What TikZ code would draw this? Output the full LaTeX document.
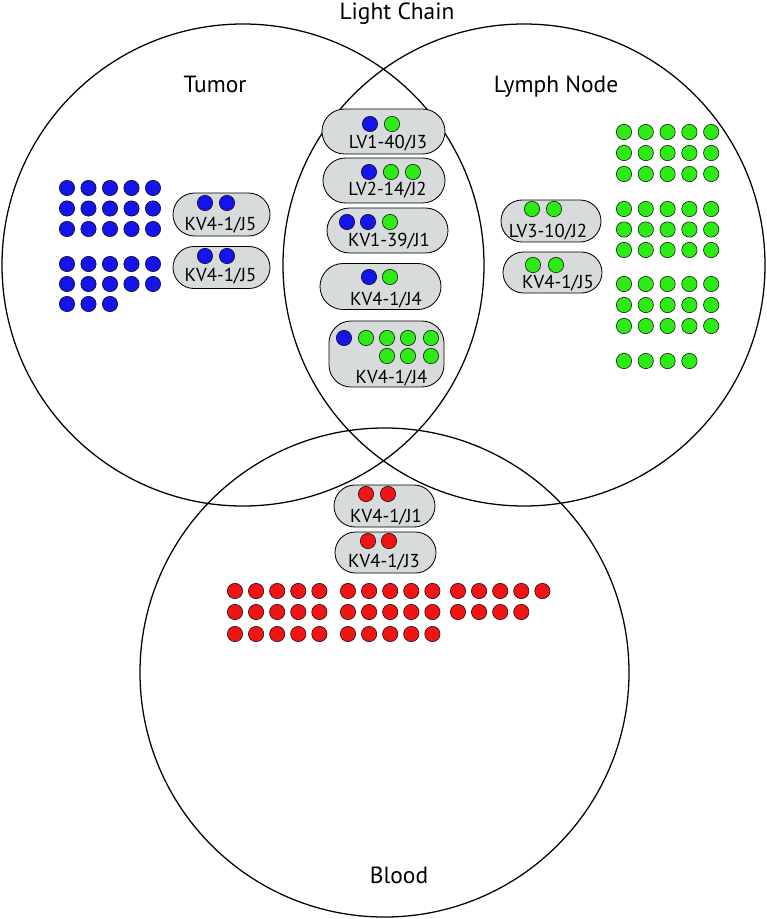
\documentclass[tikz,border=0pt]{standalone}
\usepackage{fontspec}
\setmainfont{PT Sans}
\usepackage{xcolor}
\usetikzlibrary{shapes.misc}
\definecolor{bluec}{RGB}{20,20,235}
\definecolor{greenc}{RGB}{45,235,20}
\definecolor{redc}{RGB}{240,20,20}
\definecolor{pillc}{RGB}{216,219,219}

\begin{document}
\begin{tikzpicture}[
  x=0.3mm, y=-0.3mm,
  venn/.style={circle,draw,line width=0.38mm,inner sep=0pt},
  pill/.style={rounded rectangle,draw,fill=pillc,line width=0.25mm,inner sep=0pt},
  bigpill/.style={rectangle,rounded corners=6.6mm,draw,fill=pillc,line width=0.25mm,inner sep=0pt},
  dot/.style={circle,draw,line width=0.15mm,minimum size=4.6mm,inner sep=0pt},
  bdot/.style={dot,fill=bluec},
  gdot/.style={dot,fill=greenc},
  rdot/.style={dot,fill=redc},
  ptext/.style={anchor=base,inner sep=0pt,font=\fontsize{16}{18}\selectfont},
  lbl/.style={anchor=base,inner sep=0pt,font=\fontsize{20}{22}\selectfont}
]
  \useasboundingbox (0,0) rectangle (767,919);
  % the three sets
  \node[venn,minimum size=144.6mm] (tumor) at (243,265) {};
  \node[venn,minimum size=144.6mm] (lymph) at (524,265) {};
  \node[venn,minimum size=146.7mm] (blood) at (384.5,672.5) {};
  \node[lbl] (lchain) at (397,19) {Light Chain};
  \node[lbl] (ltumor) at (215,92) {Tumor};
  \node[lbl] (llymph) at (556,92) {Lymph Node};
  \node[lbl] (lblood) at (399,883) {Blood};

  % tumor only
  \foreach \i in {0,...,4}
    \foreach \j in {0,1,2}
      \node[bdot] (ta\i\j) at ({67+21.5*\i},{188+20.5*\j}) {};
  \foreach \i in {0,...,4}
    \foreach \j in {0,1}
      \node[bdot] (tb\i\j) at ({67+21.5*\i},{264+20*\j}) {};
  \foreach \i in {0,1,2}
    \node[bdot] (tc\i) at ({67+21.5*\i},304) {};
  \node[pill,minimum width=29.1mm,minimum height=12.9mm] (t1) at (221.5,214.5) {};
  \node[bdot] (t1a) at (205,203) {};
  \node[bdot] (t1b) at (227,203) {};
  \node[ptext] (t1l) at (220.5,230) {KV4-1/J5};
  \node[pill,minimum width=29.1mm,minimum height=12.6mm] (t2) at (221.5,267.5) {};
  \node[bdot] (t2a) at (205,256) {};
  \node[bdot] (t2b) at (227,256) {};
  \node[ptext] (t2l) at (220.5,281) {KV4-1/J5};

  % tumor and lymph node
  \node[pill,minimum width=36.9mm,minimum height=13.5mm] (m1) at (383.5,131.5) {};
  \node[bdot] (m1a) at (370,124) {};
  \node[gdot] (m1b) at (392,124) {};
  \node[ptext] (m1l) at (388,148) {LV1-40/J3};
  \node[pill,minimum width=36.6mm,minimum height=13.5mm] (m2) at (384,180.5) {};
  \node[bdot] (m2a) at (369,172) {};
  \node[gdot] (m2b) at (391,172) {};
  \node[gdot] (m2c) at (413,172) {};
  \node[ptext] (m2l) at (387.5,195) {LV2-14/J2};
  \node[pill,minimum width=36.3mm,minimum height=13.5mm] (m3) at (387.5,230.5) {};
  \node[bdot] (m3a) at (347,222) {};
  \node[bdot] (m3b) at (368,222) {};
  \node[gdot] (m3c) at (390,222) {};
  \node[ptext] (m3l) at (389,246) {KV1-39/J1};
  \node[pill,minimum width=36.3mm,minimum height=13.8mm] (m4) at (380.5,286.5) {};
  \node[bdot] (m4a) at (369,277) {};
  \node[gdot] (m4b) at (390,277) {};
  \node[ptext] (m4l) at (386,305) {KV4-1/J4};
  \node[bigpill,minimum width=34.5mm,minimum height=19.8mm] (m5) at (386.5,354) {};
  \node[bdot] (m5a) at (344,338) {};
  \foreach \i/\x in {1/366,2/387,3/408,4/431}
    \node[gdot] (m5b\i) at (\x,338) {};
  \foreach \i/\x in {1/387,2/408,3/431}
    \node[gdot] (m5c\i) at (\x,356) {};
  \node[ptext] (m5l) at (391.5,383) {KV4-1/J4};

  % lymph node only
  \node[pill,minimum width=30mm,minimum height=12.6mm] (l1) at (551,221) {};
  \node[gdot] (l1a) at (532,209) {};
  \node[gdot] (l1b) at (554,209) {};
  \node[ptext] (l1l) at (548,237) {LV3-10/J2};
  \node[pill,minimum width=29.7mm,minimum height=12.3mm] (l2) at (552.5,272.5) {};
  \node[gdot] (l2a) at (533,265) {};
  \node[gdot] (l2b) at (556,265) {};
  \node[ptext] (l2l) at (558,288) {KV4-1/J5};
  \foreach \i in {0,...,4}
    \foreach \j in {0,1,2} {
      \node[gdot] (ga\i\j) at ({624+21.8*\i},{132+21*\j}) {};
      \node[gdot] (gb\i\j) at ({624+21.8*\i},{209+20.5*\j}) {};
      \node[gdot] (gc\i\j) at ({624+21.8*\i},{284+21*\j}) {};
    }
  \foreach \i in {0,...,3}
    \node[gdot] (gd\i) at ({624+21.8*\i},361) {};

  % blood only
  \node[pill,minimum width=30.3mm,minimum height=12.6mm] (b1) at (384.5,506) {};
  \node[rdot] (b1a) at (366,494) {};
  \node[rdot] (b1b) at (388,494) {};
  \node[ptext] (b1l) at (386,522) {KV4-1/J1};
  \node[pill,minimum width=30.3mm,minimum height=12.3mm] (b2) at (385.5,552.5) {};
  \node[rdot] (b2a) at (368,541) {};
  \node[rdot] (b2b) at (389,541) {};
  \node[ptext] (b2l) at (384,567) {KV4-1/J3};
  \foreach \i in {0,...,4} {
    \node[rdot] (ra\i) at ({235+21.1*\i},591) {};
    \node[rdot] (rb\i) at ({348+21.1*\i},591) {};
    \node[rdot] (rc\i) at ({458+21.1*\i},591) {};
    \node[rdot] (rd\i) at ({235+21.1*\i},612) {};
    \node[rdot] (re\i) at ({348+21.1*\i},612) {};
    \node[rdot] (rg\i) at ({235+21.1*\i},634) {};
    \node[rdot] (rh\i) at ({348+21.1*\i},634) {};
  }
  \foreach \i in {0,...,3}
    \node[rdot] (rf\i) at ({458+21.1*\i},612) {};
\end{tikzpicture}
\end{document}
